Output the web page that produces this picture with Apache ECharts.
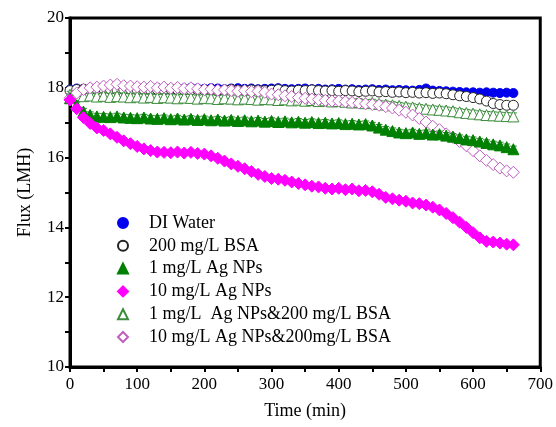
<!DOCTYPE html>
<html>
<head>
<meta charset="utf-8">
<script src="https://cdn.jsdelivr.net/npm/echarts@6/dist/echarts.min.js"></script>
<style>
  html, body { margin: 0; padding: 0; background: #fff; }
  #main { width: 556px; height: 427px; }
</style>
</head>
<body>
<div id="main"></div>
<script>
// time points (min)
var times = [];
for (var t = 0; t <= 660; t += 10) times.push(t);

var names = [
  "DI Water",
  "200 mg/L BSA",
  "1 mg/L Ag NPs",
  "10 mg/L Ag NPs",
  "1 mg/L  Ag NPs&200 mg/L BSA",
  "10 mg/L Ag NPs&200mg/L BSA"
];

var diWater = [
  17.95, 17.98, 17.97, 17.99, 17.98, 18.00, 17.98, 17.97, 17.99, 18.00,
  17.98, 17.97, 17.99, 18.00, 17.98, 17.97, 17.99, 17.98, 18.00, 17.98,
  17.97, 17.99, 17.98, 17.96, 17.98, 17.99, 17.97, 17.98, 17.96, 17.97,
  17.98, 17.99, 17.97, 17.96, 17.97, 17.98, 17.96, 17.97, 17.95, 17.96,
  17.97, 17.95, 17.96, 17.94, 17.95, 17.96, 17.94, 17.95, 17.93, 17.94,
  17.93, 17.92, 17.94, 17.98, 17.92, 17.91, 17.90, 17.89, 17.88, 17.87,
  17.87, 17.86, 17.87, 17.86, 17.85, 17.86, 17.85
];
var bsa = [
  17.92, 17.95, 17.96, 17.94, 17.95, 17.97, 17.96, 17.94, 17.95, 17.96,
  17.94, 17.95, 17.93, 17.95, 17.94, 17.96, 17.95, 17.93, 17.94, 17.95,
  17.93, 17.94, 17.92, 17.93, 17.95, 17.93, 17.92, 17.94, 17.93, 17.92,
  17.93, 17.95, 17.92, 17.91, 17.93, 17.92, 17.94, 17.92, 17.91, 17.92,
  17.90, 17.92, 17.91, 17.89, 17.90, 17.91, 17.88, 17.89, 17.87, 17.88,
  17.86, 17.87, 17.85, 17.86, 17.84, 17.85, 17.83, 17.80, 17.77, 17.75,
  17.72, 17.68, 17.62, 17.55, 17.52, 17.50, 17.50
];
var agNp1 = [
  17.70, 17.50, 17.32, 17.22, 17.18, 17.17, 17.16, 17.18, 17.15, 17.14,
  17.13, 17.15, 17.12, 17.11, 17.13, 17.10, 17.12, 17.09, 17.11, 17.08,
  17.10, 17.07, 17.09, 17.06, 17.08, 17.05, 17.07, 17.04, 17.06, 17.03,
  17.05, 17.02, 17.04, 17.01, 17.03, 17.00, 17.02, 16.99, 17.00, 16.98,
  16.99, 16.96, 16.97, 16.95, 16.96, 16.92, 16.86, 16.80, 16.76, 16.72,
  16.70, 16.72, 16.68, 16.70, 16.66, 16.67, 16.63, 16.60, 16.56, 16.52,
  16.50, 16.46, 16.42, 16.38, 16.35, 16.30, 16.24
];
var agNp10 = [
  17.65, 17.40, 17.15, 16.98, 16.85, 16.78, 16.68, 16.58, 16.48, 16.40,
  16.32, 16.25, 16.20, 16.16, 16.15, 16.14, 16.16, 16.13, 16.15, 16.12,
  16.10, 16.05, 15.98, 15.90, 15.82, 15.75, 15.68, 15.60, 15.52, 15.46,
  15.40, 15.38, 15.35, 15.30, 15.26, 15.22, 15.18, 15.16, 15.12, 15.10,
  15.12, 15.08, 15.10, 15.05, 15.06, 15.02, 14.95, 14.86, 14.82, 14.78,
  14.75, 14.70, 14.68, 14.64, 14.58, 14.50, 14.40, 14.28, 14.15, 14.00,
  13.85, 13.70, 13.60, 13.58, 13.55, 13.52, 13.50
];
var agNp1Bsa = [
  17.80, 17.78, 17.76, 17.78, 17.75, 17.77, 17.74, 17.76, 17.75, 17.73,
  17.75, 17.72, 17.74, 17.71, 17.73, 17.72, 17.70, 17.72, 17.71, 17.69,
  17.71, 17.70, 17.68, 17.70, 17.69, 17.67, 17.69, 17.68, 17.66, 17.68,
  17.67, 17.65, 17.67, 17.64, 17.66, 17.63, 17.65, 17.62, 17.64, 17.61,
  17.62, 17.60, 17.58, 17.59, 17.56, 17.57, 17.54, 17.52, 17.50, 17.48,
  17.46, 17.44, 17.42, 17.40, 17.38, 17.37, 17.35, 17.33, 17.30, 17.28,
  17.26, 17.24, 17.22, 17.21, 17.20, 17.19, 17.18
];
var agNp10Bsa = [
  17.70, 17.85, 17.95, 18.00, 18.02, 18.05, 18.08, 18.10, 18.06, 18.05,
  18.03, 18.02, 18.04, 18.00, 18.02, 17.99, 18.01, 17.98, 18.00, 17.97,
  17.95, 17.96, 17.93, 17.94, 17.92, 17.90, 17.92, 17.89, 17.90, 17.87,
  17.82, 17.80, 17.77, 17.75, 17.72, 17.70, 17.68, 17.66, 17.64, 17.62,
  17.62, 17.60, 17.58, 17.56, 17.54, 17.52, 17.50, 17.46, 17.42, 17.36,
  17.30, 17.22, 17.12, 17.02, 16.90, 16.80, 16.68, 16.58, 16.46, 16.34,
  16.20, 16.05, 15.92, 15.80, 15.70, 15.62, 15.58
];

// error bar half-widths per series
var errs = [0.08, 0.08, 0.09, 0.06, 0.1, 0.08];

var font = "Liberation Serif";

function pairs(vals) {
  return times.map(function (t, i) { return [t, vals[i]]; });
}

function errSeries(vals, err, color, z) {
  return {
    type: "custom",
    silent: true,
    z: z,
    data: pairs(vals),
    renderItem: function (params, api) {
      var x = api.value(0), y = api.value(1);
      var hi = api.coord([x, y + err]);
      var lo = api.coord([x, y - err]);
      var w = 3.5;
      var st = { stroke: color, lineWidth: 1 };
      return {
        type: "group",
        children: [
          { type: "line", shape: { x1: hi[0], y1: hi[1], x2: lo[0], y2: lo[1] }, style: st },
          { type: "line", shape: { x1: hi[0] - w, y1: hi[1], x2: hi[0] + w, y2: hi[1] }, style: st },
          { type: "line", shape: { x1: lo[0] - w, y1: lo[1], x2: lo[0] + w, y2: lo[1] }, style: st }
        ]
      };
    }
  };
}

function dots(name, vals, symbol, size, fill, border, z) {
  return {
    name: name,
    type: "scatter",
    symbol: symbol,
    symbolSize: size,
    z: z,
    data: pairs(vals),
    itemStyle: { color: fill, borderColor: border, borderWidth: 1, opacity: 1 }
  };
}

var myChart = echarts.init(document.getElementById("main"));

var option = {
  animation: false,
  backgroundColor: "#fff",
  grid: {
    left: 70, right: 15, top: 18, bottom: 60,
    show: true, borderWidth: 3, borderColor: "#000"
  },
  legend: {
    data: names,
    orient: "vertical",
    left: 112,
    top: 209,
    itemWidth: 10,
    itemHeight: 10,
    itemGap: 4.8,
    textStyle: {
      fontFamily: font, fontSize: 18, color: "#000", lineHeight: 18,
      padding: [0, 0, 0, 16]
    }
  },
  xAxis: {
    type: "value",
    min: 0, max: 700, interval: 100,
    name: "Time (min)",
    nameLocation: "middle",
    nameGap: 35,
    nameTextStyle: { fontFamily: font, fontSize: 18, color: "#000" },
    axisLine: { lineStyle: { color: "#000", width: 3 } },
    axisTick: { length: 5, lineStyle: { width: 2, color: "#000" } },
    minorTick: { show: true, splitNumber: 2, length: 5, lineStyle: { width: 2, color: "#000" } },
    axisLabel: { fontFamily: font, fontSize: 17, color: "#000", margin: 9 },
    splitLine: { show: false }
  },
  yAxis: {
    type: "value",
    min: 10, max: 20, interval: 2,
    name: "Flux (LMH)",
    nameLocation: "middle",
    nameGap: 36,
    nameTextStyle: { fontFamily: font, fontSize: 18, color: "#000" },
    axisLine: { lineStyle: { color: "#000", width: 3 } },
    axisTick: { length: 5, lineStyle: { width: 2, color: "#000" } },
    minorTick: { show: true, splitNumber: 2, length: 5, lineStyle: { width: 2, color: "#000" } },
    axisLabel: { fontFamily: font, fontSize: 17, color: "#000", margin: 6 },
    splitLine: { show: false }
  },
  series: [
    // drawing order bottom -> top
    errSeries(diWater, errs[0], "#1a1aa0", 1),
    dots(names[0], diWater, "circle", 9, "#0000ee", "#0000ee", 2),
    errSeries(bsa, errs[1], "#333333", 3),
    dots(names[1], bsa, "circle", 10, "#fff", "#222", 4),
    errSeries(agNp1Bsa, errs[4], "#3c8c3c", 5),
    dots(names[4], agNp1Bsa, "triangle", 11, "#fff", "#3c8c3c", 6),
    errSeries(agNp10Bsa, errs[5], "#d070d0", 7),
    dots(names[5], agNp10Bsa, "diamond", 12, "#fff", "#c060c0", 8),
    errSeries(agNp1, errs[2], "#2e8b2e", 9),
    dots(names[2], agNp1, "triangle", 11, "#008000", "#008000", 10),
    errSeries(agNp10, errs[3], "#ee44ee", 11),
    dots(names[3], agNp10, "diamond", 12, "#ff00ff", "#ff00ff", 12)
  ]
};

myChart.setOption(option);
</script>
</body>
</html>
